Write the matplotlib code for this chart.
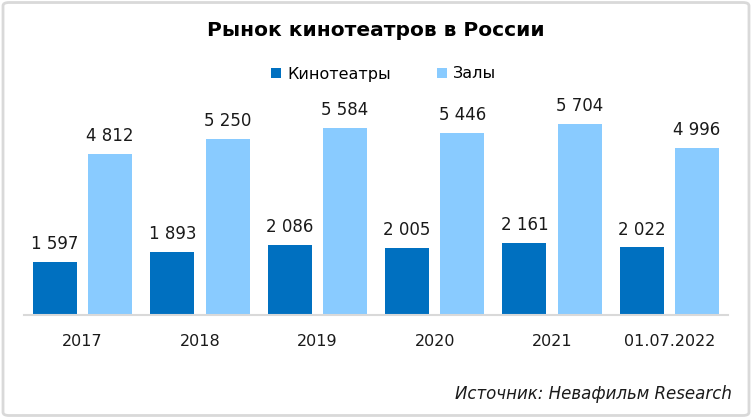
import numpy as np
import matplotlib.pyplot as plt
from matplotlib.patches import FancyBboxPatch

# --- Data ---
categories = ['2017', '2018', '2019', '2020', '2021', '01.07.2022']
cinemas = [1597, 1893, 2086, 2005, 2161, 2022]
screens = [4812, 5250, 5584, 5446, 5704, 4996]

dark_blue = '#0070C0'
light_blue = '#89CBFF'

plt.rcParams['font.family'] = ['DejaVu Sans']

fig = plt.figure(figsize=(7.52, 4.18), dpi=100)
ax = fig.add_axes([24 / 752, 1 - 315 / 418, 704 / 752, 215 / 418])

x = np.arange(len(categories))
w = 0.375
off = 0.235
b1 = ax.bar(x - off, cinemas, w, color=dark_blue, label='Кинотеатры')
b2 = ax.bar(x + off, screens, w, color=light_blue, label='Залы')


def fmt(v):
    return f'{v:,}'.replace(',', ' ')


# value labels above bars
for bars, vals in [(b1, cinemas), (b2, screens)]:
    for rect, v in zip(bars, vals):
        ax.text(rect.get_x() + rect.get_width() / 2, v + 260, fmt(v),
                ha='center', va='bottom', fontsize=12, color='#1a1a1a')

ax.set_xlim(-0.5, len(categories) - 0.5)
ax.set_ylim(0, 6420)
ax.set_xticks(x)
ax.set_xticklabels(categories, fontsize=11.5, color='#1a1a1a')
ax.tick_params(axis='x', length=0, pad=14)
ax.set_yticks([])
for s in ['top', 'right', 'left']:
    ax.spines[s].set_visible(False)
ax.spines['bottom'].set_color('#D9D9D9')
ax.spines['bottom'].set_linewidth(1.5)

fig.text(0.5, 1 - 30 / 418, 'Рынок кинотеатров в России', ha='center', va='center',
         fontsize=14.5, fontweight='bold', color='black')

fig.legend(handles=[b1, b2], loc='center', bbox_to_anchor=(0.51, 1 - 74 / 418),
           ncol=2, frameon=False, fontsize=11.5, handlelength=0.6, handleheight=0.6,
           handletextpad=0.4, columnspacing=2.9)

fig.text(732 / 752, 1 - 394 / 418, 'Источник: Невафильм Research', ha='right', va='center',
         fontsize=12, style='italic', color='#1a1a1a')

border = FancyBboxPatch((0.004, 0.006), 0.992, 0.988, boxstyle='round,pad=0,rounding_size=0.008',
                        transform=fig.transFigure, fill=False, edgecolor='#D9D9D9', linewidth=2)
fig.patches.append(border)

fig.savefig('out.png', dpi=100)
